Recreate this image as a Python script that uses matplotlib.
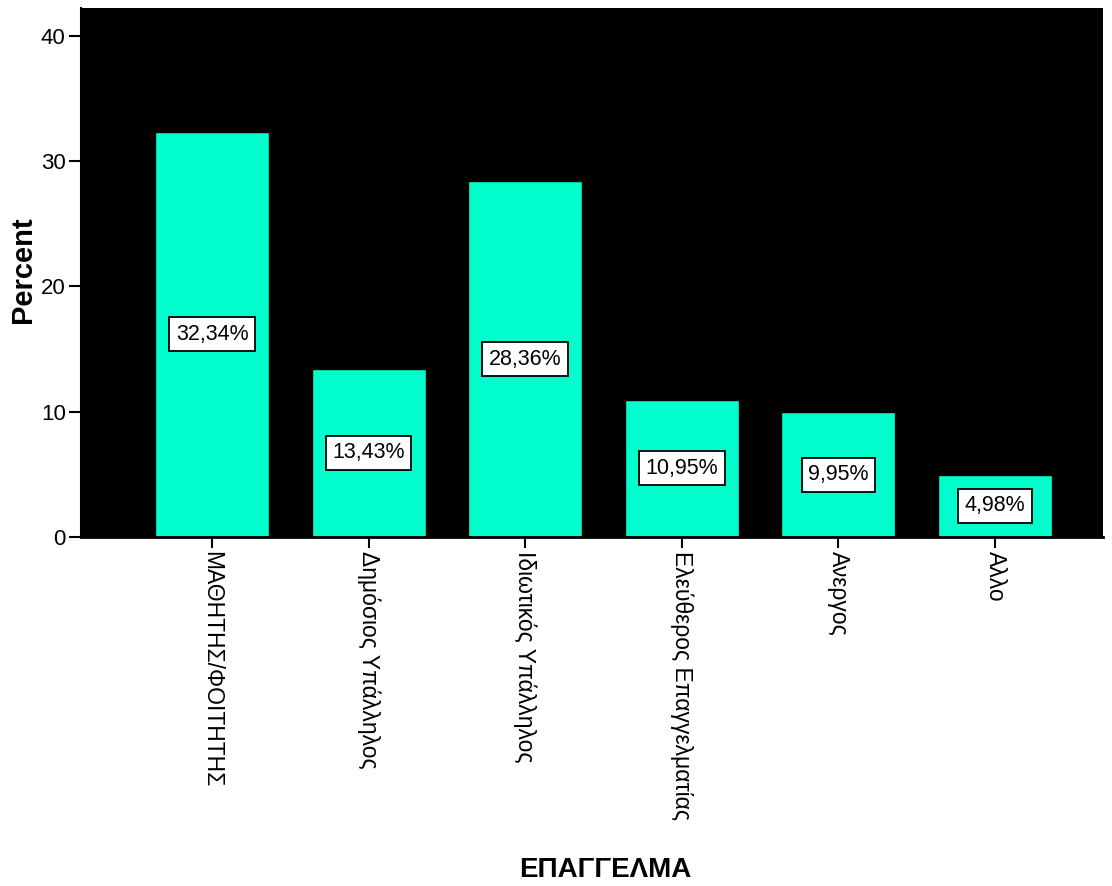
import numpy as np
import matplotlib
matplotlib.use("Agg")
import matplotlib.pyplot as plt

# Data
categories = ["ΜΑΘΗΤΗΣ/ΦΟΙΤΗΤΗΣ", "Δημόσιος Υπάλληλος", "Ιδιωτικός Υπάλληλος",
              "Ελεύθερος Επαγγελματίας", "Ανεργος", "Αλλο"]
percent = [32.34, 13.43, 28.36, 10.95, 9.95, 4.98]
labels = ["32,34%", "13,43%", "28,36%", "10,95%", "9,95%", "4,98%"]

plt.rcParams['font.family'] = ['Liberation Sans', 'DejaVu Sans']

fig = plt.figure(figsize=(11.12, 8.86), dpi=100)
ax = fig.add_axes([81/1112, 1-537/886, 1022/1112, 529/886])
ax.set_facecolor("black")

x = np.arange(len(categories))
ax.bar(x, percent, width=0.728, color="#00FFCC", edgecolor="black", linewidth=1, zorder=2)

for xi, v, lab in zip(x, percent, labels):
    ax.text(xi, v/2, lab, ha="center", va="center", fontsize=15.5, color="black", zorder=3,
            bbox=dict(boxstyle="square,pad=0.3", facecolor="white", edgecolor="black", linewidth=1.3))

ax.set_xlim(-0.837, 5.69)
ax.set_ylim(0, 42.2)
ax.set_yticks([0, 10, 20, 30, 40])
ax.set_xticks(x)
ax.set_xticklabels(categories, rotation=270, fontsize=16.5, va="top", ha="center")
ax.tick_params(axis="y", labelsize=16, length=9, width=1.5, direction="out", pad=2)
ax.tick_params(axis="x", length=8, width=1.5, direction="out", pad=2)

for s in ["top", "right"]:
    ax.spines[s].set_visible(False)
ax.spines["left"].set_linewidth(1.5)
ax.spines["bottom"].set_linewidth(2)

# axis titles placed on the figure
fig.text(23/1112, 1-270/886, "Percent", rotation=90, ha="center", va="center",
         fontsize=21, fontweight="bold")
fig.text(605/1112, 1-870/886, "ΕΠΑΓΓΕΛΜΑ", ha="center", va="center",
         fontsize=20, fontweight="bold")

plt.savefig("out.png", dpi=100)
